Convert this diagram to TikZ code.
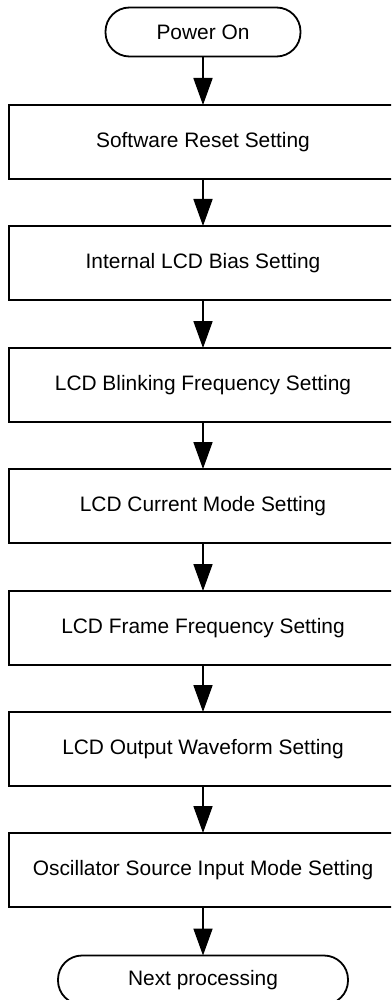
\documentclass[tikz,border=0pt]{standalone}
\usepackage{fontspec}
\setmainfont{Liberation Sans}
\usetikzlibrary{arrows.meta}
\begin{document}
\begin{tikzpicture}[x=1pt,y=-1pt,
  every node/.style={font=\fontsize{20.9pt}{24pt}\selectfont, inner sep=0pt, outer sep=0pt},
  stepbox/.style={draw, line width=1.8pt, minimum width=388pt, minimum height=74pt},
  term/.style={draw, line width=1.8pt, rounded corners=24pt, minimum height=49pt},
  flow/.style={line width=1.8pt, -{Triangle[length=27pt,width=19pt]}}]
\useasboundingbox (0,0) rectangle (391,1000);
\clip (0,0) rectangle (391,1000);
\fill[white] (0,0) rectangle (391,1000);
\node[term, minimum width=195pt] (start) at (203,32) {Power On};
\node[stepbox] (b1) at (203,142) {Software Reset Setting};
\node[stepbox] (b2) at (203,263) {Internal LCD Bias Setting};
\node[stepbox] (b3) at (203,385) {LCD Blinking Frequency Setting};
\node[stepbox] (b4) at (203,506) {LCD Current Mode Setting};
\node[stepbox] (b5) at (203,628) {LCD Frame Frequency Setting};
\node[stepbox] (b6) at (203,749) {LCD Output Waveform Setting};
\node[stepbox] (b7) at (203,870) {Oscillator Source Input Mode Setting};
\node[term, minimum width=290pt] (end) at (203,980) {Next processing};
\draw[flow] (start) -- (b1);
\draw[flow] (b1) -- (b2);
\draw[flow] (b2) -- (b3);
\draw[flow] (b3) -- (b4);
\draw[flow] (b4) -- (b5);
\draw[flow] (b5) -- (b6);
\draw[flow] (b6) -- (b7);
\draw[flow] (b7) -- (end);
\end{tikzpicture}
\end{document}
